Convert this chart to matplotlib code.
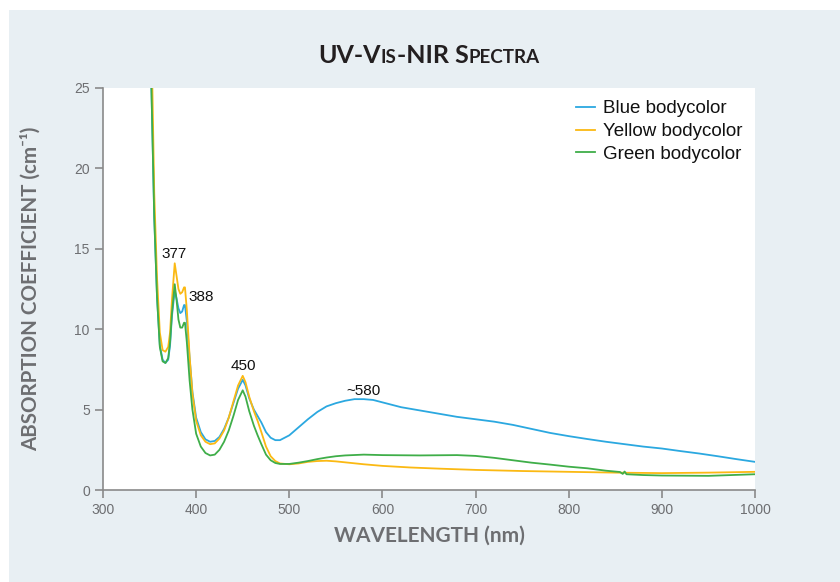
import matplotlib
matplotlib.use("Agg")
import matplotlib.pyplot as plt
from matplotlib.patches import Rectangle

# wavelengths (nm) and absorption coefficient (cm-1)
wl_main = [351, 352, 355, 358, 361, 364, 367, 370, 372, 374, 377, 379, 381, 383,
           385, 387, 388, 390, 393, 396, 400, 405, 410, 415, 420, 425, 430, 435,
           440, 445, 450, 453, 457, 462, 466, 470, 475, 480, 485, 490, 500, 510,
           520, 530, 540, 550, 560, 570, 580, 590, 600, 620, 640, 660, 680, 700,
           720, 740, 760, 780, 800, 820, 840, 860, 880, 900, 920, 940, 960, 980, 1000]

blue = [26.0, 25.0, 17.0, 12.0, 9.0, 8.1, 7.9, 8.1, 9.0, 10.8, 12.4, 11.9, 11.3, 11.0,
        11.1, 11.5, 11.5, 10.5, 8.2, 6.1, 4.5, 3.6, 3.15, 3.0, 3.05, 3.3, 3.8, 4.5,
        5.4, 6.3, 6.85, 6.5, 5.7, 5.0, 4.6, 4.2, 3.6, 3.25, 3.1, 3.1, 3.4, 3.9,
        4.4, 4.85, 5.2, 5.4, 5.55, 5.65, 5.65, 5.6, 5.45, 5.15, 4.95, 4.75, 4.55, 4.4,
        4.25, 4.05, 3.8, 3.55, 3.35, 3.17, 3.0, 2.85, 2.7, 2.58, 2.42, 2.27, 2.1, 1.92, 1.75]

wl_yellow = [352, 353, 355, 358, 361, 364, 367, 370, 372, 374, 377, 379, 381, 383,
             385, 387, 388, 390, 393, 396, 400, 405, 410, 415, 420, 425, 430, 435,
             440, 445, 450, 453, 457, 462, 466, 470, 475, 480, 485, 490, 500, 510,
             520, 530, 540, 550, 560, 580, 600, 630, 660, 700, 750, 800, 850, 900,
             950, 1000]
yellow = [26.0, 25.0, 18.5, 13.2, 9.8, 8.7, 8.6, 8.9, 9.8, 11.8, 14.1, 13.3, 12.5, 12.2,
          12.3, 12.6, 12.6, 11.2, 8.3, 6.0, 4.3, 3.4, 3.0, 2.85, 2.9, 3.2, 3.7, 4.5,
          5.5, 6.5, 7.1, 6.7, 5.8, 4.9, 4.3, 3.6, 2.7, 2.1, 1.8, 1.65, 1.6, 1.65,
          1.75, 1.8, 1.82, 1.78, 1.72, 1.6, 1.5, 1.4, 1.33, 1.25, 1.18, 1.13, 1.08, 1.05,
          1.08, 1.13]

wl_green = [351, 352, 355, 358, 361, 364, 367, 370, 372, 374, 377, 379, 381, 383,
            385, 387, 388, 390, 393, 396, 400, 405, 410, 415, 420, 425, 430, 435,
            440, 445, 450, 453, 457, 462, 466, 470, 475, 480, 485, 490, 500, 510,
            520, 530, 540, 550, 560, 580, 600, 640, 680, 700, 720, 740, 760, 780,
            800, 820, 840, 855, 858, 860, 862, 880, 900, 950, 1000]
green = [26.0, 25.0, 17.0, 12.0, 8.9, 8.0, 7.9, 8.2, 9.2, 11.0, 12.8, 11.8, 10.6, 10.1,
         10.1, 10.4, 10.4, 9.2, 6.8, 5.0, 3.5, 2.7, 2.3, 2.15, 2.2, 2.5, 3.0, 3.7,
         4.6, 5.6, 6.2, 5.8, 4.9, 4.0, 3.4, 2.85, 2.2, 1.85, 1.68, 1.62, 1.62, 1.7,
         1.8, 1.92, 2.02, 2.1, 2.15, 2.2, 2.17, 2.15, 2.17, 2.12, 2.0, 1.85, 1.7, 1.58,
         1.45, 1.35, 1.2, 1.12, 1.0, 1.15, 0.98, 0.93, 0.9, 0.88, 0.98]

peak_labels = ["377", "388", "450", "~580"]
peak_pos = [(376, 14.7), (405, 12.0), (451, 7.7), (580, 6.15)]

c_blue = "#2ba8e0"
c_yellow = "#fbb913"
c_green = "#3fae49"
grey = "#6d6e71"

fig = plt.figure(figsize=(8.4, 5.82), dpi=100)
fig.patch.set_facecolor("white")
fig.patches.append(Rectangle((9 / 840, 0), 1, 1 - 10 / 582, transform=fig.transFigure,
                             facecolor="#e8eff3", edgecolor="none", zorder=-10))

ax = fig.add_axes([103 / 840, 1 - 490 / 582, 652 / 840, 402 / 582])
ax.set_facecolor("white")

ax.plot(wl_main, blue, color=c_blue, lw=1.3, label="Blue bodycolor")
ax.plot(wl_yellow, yellow, color=c_yellow, lw=1.3, label="Yellow bodycolor")
ax.plot(wl_green, green, color=c_green, lw=1.3, label="Green bodycolor")

for s, (x, y) in zip(peak_labels, peak_pos):
    ax.text(x, y, s, ha="center", va="center", fontsize=11, family="Liberation Sans",
            color="#111111")

ax.set_xlim(300, 1000)
ax.set_ylim(0, 25)
ax.set_xticks(range(300, 1001, 100))
ax.set_yticks(range(0, 26, 5))
for side in ["top", "right"]:
    ax.spines[side].set_visible(False)
for side in ["left", "bottom"]:
    ax.spines[side].set_color("#8a8a8a")
    ax.spines[side].set_linewidth(1.2)
ax.tick_params(direction="out", length=6, width=1.2, color="#8a8a8a",
               labelcolor=grey, labelsize=10)
for lab in ax.get_xticklabels() + ax.get_yticklabels():
    lab.set_family("Liberation Sans")

ax.set_xlabel("WAVELENGTH (nm)", fontsize=15, fontweight="bold", color=grey,
              family="Lato", labelpad=6)
ax.set_ylabel("ABSORPTION COEFFICIENT (cm\u207b\u00b9)", fontsize=14.8,
              fontweight="bold", color=grey, family=["Lato", "DejaVu Sans"], labelpad=24)

leg = ax.legend(loc="upper right", bbox_to_anchor=(1.0, 1.0), frameon=False,
                prop={"family": "Liberation Sans", "size": 13.5}, handlelength=1.0,
                handletextpad=0.45, labelspacing=0.3, borderaxespad=0.25)
for t in leg.get_texts():
    t.set_color("#111111")

# small-caps style title built from pieces
parts = [("UV-V", 18), ("IS", 13.5), ("-NIR S", 18), ("PECTRA", 13.5)]
renderer = fig.canvas.get_renderer()
texts = []
widths = []
for s, size in parts:
    t = fig.text(0, 1 - 63 / 582, s, fontsize=size, fontweight="bold", family="Lato",
                 color="#231f20", va="baseline", ha="left")
    texts.append(t)
    widths.append(t.get_window_extent(renderer).width)
total = sum(widths)
x0 = 429 - total / 2
for t, w in zip(texts, widths):
    t.set_x(x0 / 840)
    x0 += w

fig.savefig("out.png", dpi=100, facecolor=fig.get_facecolor())
